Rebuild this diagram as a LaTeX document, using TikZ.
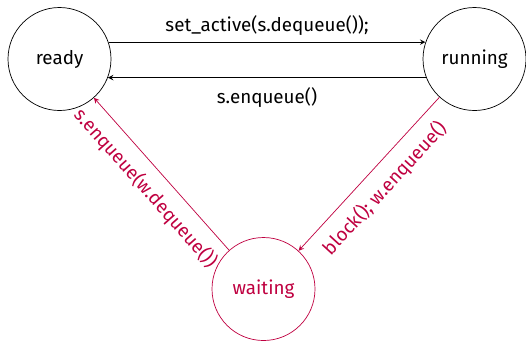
\documentclass[tikz,border=0pt]{standalone}
\usepackage{fontspec}
\setmainfont{Fira Sans}
\begin{document}
\begin{tikzpicture}[
      >=stealth,
      font=\fontsize{10.7}{13}\selectfont,
      state/.style={
        circle,
        draw=black,
        minimum size=2.06cm
      },
      wait/.style={
        draw=purple,
        text=purple
      }
    ]

    \useasboundingbox (-1.19,1.18) rectangle (9.33,-5.62);

    % States
    \node[state] (Ready) {ready};
    \node[state, xshift=8.3cm] (Running) at (Ready.center) {running};
    \node[state, wait, xshift=4.08cm, yshift=-4.6cm] (Waiting) at (Ready.center) {waiting};

    % Scheduler arrows
    \draw[->] (Ready.19) -- (Running.161) node[midway, above] {set\_active(s.dequeue());};
    \draw[->] (Running.-159) -- (Ready.-21) node[midway, below=2pt] {s.enqueue()};

    % Wait queue arrows
    \draw[->, purple] (Running) -- (Waiting) node[midway, sloped, below=3pt] {block(); w.enqueue()};
    \draw[->, purple] (Waiting) -- (Ready) node[midway, sloped, below=3pt] {s.enqueue(w.dequeue())};
    \end{tikzpicture}
\end{document}
